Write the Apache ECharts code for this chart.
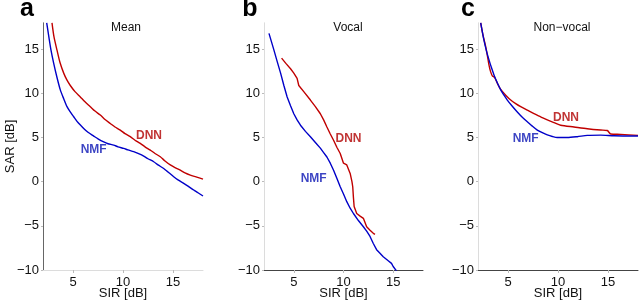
<!DOCTYPE html>
<html><head><meta charset="utf-8">
<script src="https://cdn.jsdelivr.net/npm/echarts@6/dist/echarts.min.js"></script>
<style>html,body{margin:0;padding:0;background:#fff}#c{width:640px;height:301px}</style>
</head><body><div id="c"></div>
<script>
// ---- data (SIR [dB], SAR [dB]) ----
const panelTitles = ['Mean', 'Vocal', 'Non\u2212vocal'];
const panelLetters = ['a', 'b', 'c'];
const xTicks = [5, 10, 15];
const seriesNames = ['DNN', 'NMF'];

const meanNMF = [[2.37,18],[2.6,16.3],[2.8,14.9],[3.07,13.4],[3.4,11.8],[3.73,10.4],[4.07,9.4],[4.4,8.5],[4.73,7.9],[5.07,7.36],[5.5,6.7],[6.07,6.04],[6.5,5.6],[7.07,5.17],[7.5,4.85],[8.07,4.5],[8.5,4.3],[9.07,4.15],[9.5,3.95],[10.07,3.77],[10.5,3.6],[11.07,3.4],[11.5,3.2],[12.07,2.9],[12.5,2.6],[13.07,2.26],[13.5,1.9],[14.07,1.5],[14.5,1.1],[15.07,0.57],[15.5,0.2],[16.07,-0.19],[16.5,-0.5],[17.07,-0.94],[17.5,-1.25],[18,-1.62]];
const meanDNN = [[2.9,18],[3.1,16.4],[3.4,14.9],[3.7,13.5],[4.07,12.3],[4.4,11.5],[4.73,10.9],[5.2,10.2],[5.73,9.6],[6.2,9.05],[6.73,8.5],[7.2,8.0],[7.73,7.55],[8.2,7.05],[8.73,6.6],[9.2,6.2],[9.73,5.85],[10.2,5.45],[10.73,5.1],[11.2,4.7],[11.73,4.34],[12.2,3.95],[12.73,3.58],[13.2,3.2],[13.73,2.83],[14.2,2.35],[14.73,1.9],[15.2,1.6],[15.73,1.3],[16.2,1.0],[16.73,0.75],[17.3,0.55],[18,0.3]];

const vocalNMF = [[2.5,16.8],[3.0,14.9],[3.33,13.6],[3.67,12.3],[4.0,10.9],[4.33,9.6],[4.67,8.6],[5.0,7.7],[5.33,7.0],[5.67,6.4],[6.17,5.7],[6.67,5.1],[7.17,4.45],[7.67,3.8],[8.0,3.3],[8.33,2.8],[8.67,2.1],[9.0,1.3],[9.33,0.4],[9.67,-0.57],[10.0,-1.4],[10.33,-2.26],[10.67,-3.0],[11.0,-3.6],[11.5,-4.4],[12.0,-5.1],[12.33,-5.6],[12.67,-6.2],[13.0,-7.0],[13.33,-7.7],[13.67,-8.1],[14.0,-8.5],[14.5,-8.95],[14.83,-9.25],[15.0,-9.6],[15.33,-10.1]];
const vocalDNN = [[3.77,14.0],[4.2,13.4],[4.67,12.8],[5.0,12.3],[5.33,11.7],[5.5,10.9],[6.0,10.2],[6.67,9.25],[7.17,8.5],[7.67,7.7],[8.0,7.0],[8.33,6.2],[8.67,5.4],[9.0,4.7],[9.33,3.9],[9.67,3.2],[10.0,2.1],[10.33,1.9],[10.67,0.94],[10.85,0.0],[10.93,-0.57],[11.0,-1.8],[11.07,-2.8],[11.33,-3.6],[11.67,-3.9],[12.0,-4.15],[12.33,-5.1],[12.67,-5.5],[13.0,-5.85],[13.17,-5.96]];

const nonvocalNMF = [[2.27,18],[2.6,16],[2.85,14.8],[3.1,13.8],[3.35,12.9],[3.6,12.1],[3.93,11.2],[4.27,10.4],[4.6,9.8],[4.93,9.25],[5.43,8.55],[5.93,7.9],[6.43,7.3],[6.93,6.8],[7.43,6.3],[7.93,5.85],[8.43,5.55],[8.93,5.3],[9.43,5.12],[9.93,5.0],[10.93,5.0],[11.93,5.1],[12.93,5.25],[14.27,5.28],[15.6,5.2],[18,5.17]];
const nonvocalDNN = [[2.27,18],[2.5,16.6],[2.77,15.3],[2.95,14.2],[3.1,13.2],[3.25,12.5],[3.43,12.0],[3.67,11.8],[3.95,11.1],[4.27,10.45],[4.77,9.8],[5.27,9.25],[5.77,8.85],[6.27,8.5],[6.93,8.1],[7.6,7.7],[8.27,7.35],[8.93,7.0],[9.6,6.7],[10.27,6.4],[11.6,6.2],[12.93,6.0],[14.27,5.85],[14.93,5.8],[15.27,5.4],[16.27,5.36],[18,5.25]];

// label anchor positions [SIR, SAR] for DNN and NMF per panel
const dnnLabelPos = [[12.6,5.2],[10.5,4.9],[10.8,7.2]];
const nmfLabelPos = [[7.07,3.6],[7.0,0.3],[6.77,4.9]];

const panelData = [[meanDNN, meanNMF],[vocalDNN, vocalNMF],[nonvocalDNN, nonvocalNMF]];

// ---- layout ----
const grids = [
  {left: 43, top: 22.8, width: 160, height: 247.2, outerBoundsMode: 'none', containLabel: false},
  {left: 264, top: 22.8, width: 159, height: 247.2, outerBoundsMode: 'none', containLabel: false},
  {left: 478, top: 22.8, width: 160, height: 247.2, outerBoundsMode: 'none', containLabel: false}
];
const lineColors = ['#c00000', '#0000c8'];
const labelColors = ['#b00000', '#0a14b4'];
const FONT = 'Liberation Sans, Arial, sans-serif';
const minus = v => String(v).replace('-', '\u2212');

const xAxes = [], yAxes = [], series = [], graphics = [];
grids.forEach((g, i) => {
  xAxes.push({
    gridIndex: i, type: 'value', min: 2, max: 18,
    name: 'SIR [dB]', nameLocation: 'middle', nameGap: 17, nameMoveOverlap: false,
    nameTextStyle: {fontFamily: FONT, fontSize: 13, color: '#111'},
    axisLine: {show: true, onZero: false, lineStyle: {color: i === 0 ? '#dcdcdc' : '#444', width: 1}},
    axisTick: {show: true, inside: false, length: 3, lineStyle: {color: '#bbb'}, customValues: xTicks},
    axisLabel: {fontFamily: FONT, fontSize: 13, color: '#111', margin: 6, customValues: xTicks},
    splitLine: {show: false}
  });
  yAxes.push({
    gridIndex: i, type: 'value', min: -10, max: 18, interval: 5,
    name: i === 0 ? 'SAR [dB]' : '', nameLocation: 'middle', nameGap: 26, nameMoveOverlap: false,
    nameTextStyle: {fontFamily: FONT, fontSize: 13, color: '#111'},
    axisLine: {show: true, onZero: false, lineStyle: {color: i === 0 ? '#666' : '#dcdcdc', width: 1}},
    axisTick: {show: true, inside: false, length: 2, lineStyle: {color: '#bbb'}},
    axisLabel: {fontFamily: FONT, fontSize: 13, color: '#111', margin: 4, formatter: minus, showMaxLabel: false},
    splitLine: {show: false}
  });
  panelData[i].forEach((d, k) => {
    series.push({
      type: 'line', name: seriesNames[k], xAxisIndex: i, yAxisIndex: i,
      data: d, showSymbol: false, symbol: 'none', smooth: i === 1 ? false : 0.25,
      clip: true, lineStyle: {color: lineColors[k], width: 1.4}, z: k === 0 ? 2 : 3
    });
  });
  [dnnLabelPos[i], nmfLabelPos[i]].forEach((p, k) => {
    series.push({
      type: 'scatter', xAxisIndex: i, yAxisIndex: i, symbolSize: 0, silent: true,
      data: [p],
      label: {show: true, position: 'inside', formatter: seriesNames[k],
        fontFamily: FONT, fontSize: 12, fontWeight: 'bold', color: labelColors[k]}
    });
  });
});

const titleX = [126, 348, 562];
const letterX = [27, 250, 468];
titleX.forEach((x, i) => {
  graphics.push({type: 'text', x: x, y: 28, style: {text: panelTitles[i], textAlign: 'center', textVerticalAlign: 'middle', font: '12px ' + FONT, fill: '#111'}});
  graphics.push({type: 'text', x: letterX[i], y: 22, style: {text: panelLetters[i], textAlign: 'center', textVerticalAlign: 'bottom', font: 'bold 25px ' + FONT, fill: '#000'}});
});

const chart = echarts.init(document.getElementById('c'), null, {renderer: 'canvas'});
chart.setOption({
  animation: false,
  grid: grids,
  xAxis: xAxes,
  yAxis: yAxes,
  series: series,
  graphic: graphics
});
</script></body></html>
